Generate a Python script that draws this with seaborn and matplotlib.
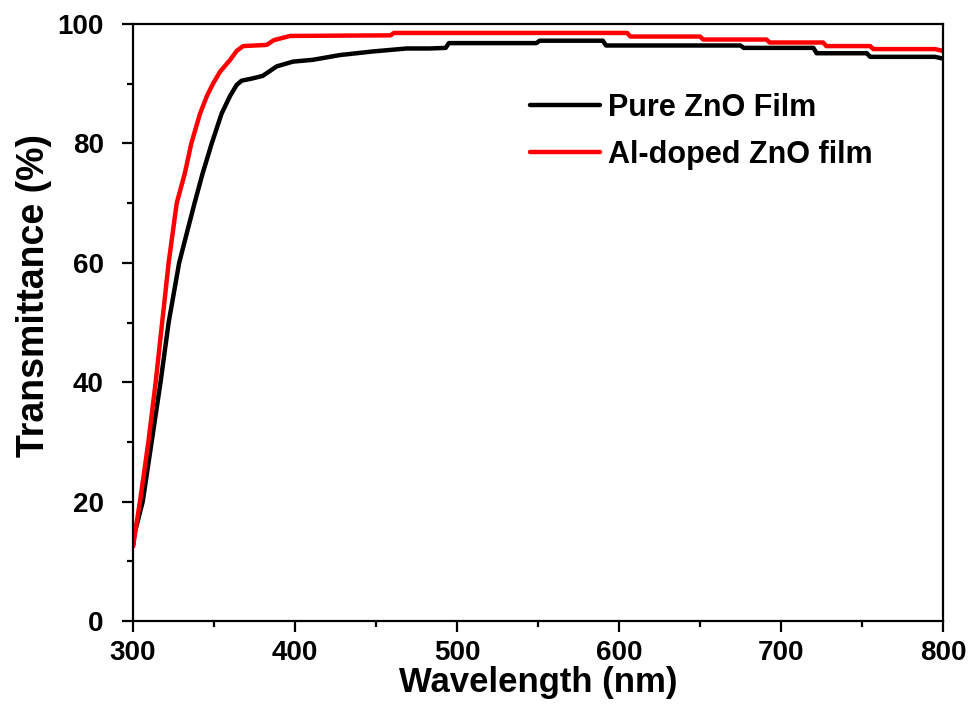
import matplotlib
matplotlib.use("Agg")
import matplotlib.pyplot as plt
import numpy as np
import pandas as pd
import seaborn as sns
from matplotlib.ticker import MultipleLocator

# values
pure_wl = [300, 301, 306, 311.5, 317, 322, 328.5, 338, 343, 348.6, 354.7, 360, 364, 367,
           374, 380, 388.7, 398.8, 411, 427.8, 448, 469, 483, 493, 495, 549, 551, 590,
           592, 675, 677, 720, 722, 753, 755, 795, 800]
pure_t = [12.5, 14.7, 20, 30, 40, 50, 60, 70, 75, 80, 85, 88, 89.8, 90.5,
          90.9, 91.3, 92.9, 93.7, 94.0, 94.8, 95.4, 95.9, 95.9, 96.0, 96.8, 96.8, 97.2, 97.2,
          96.4, 96.4, 96.0, 96.0, 95.1, 95.1, 94.5, 94.5, 94.2]

al_wl = [300, 304.3, 309.5, 314, 318, 322, 327, 332, 336, 341.4, 345.7, 349.4, 353.7, 360,
         364, 368, 382.5, 387, 397, 459, 461, 605, 607, 650, 652, 691, 693, 726, 728,
         755, 757, 795, 800]
al_t = [12.5, 20, 30, 40, 50, 60, 70, 75, 80, 85, 88, 90, 92, 94,
        95.5, 96.3, 96.5, 97.3, 98.0, 98.1, 98.5, 98.5, 97.9, 97.9, 97.4, 97.4, 96.9, 96.9, 96.3,
        96.3, 95.8, 95.8, 95.5]

labels = ["Pure ZnO Film", "Al-doped ZnO film"]
colors = ["black", "#ff0000"]

df = pd.concat([
    pd.DataFrame({"wl": pure_wl, "T": pure_t, "film": labels[0]}),
    pd.DataFrame({"wl": al_wl, "T": al_t, "film": labels[1]}),
])

sns.set_style("ticks")
plt.rcParams['font.family'] = ['Liberation Sans', 'DejaVu Sans']
plt.rcParams['font.weight'] = 'bold'
plt.rcParams['text.color'] = 'black'
plt.rcParams['axes.labelcolor'] = 'black'
plt.rcParams['xtick.color'] = 'black'
plt.rcParams['ytick.color'] = 'black'

fig = plt.figure(figsize=(9.73, 7.26), dpi=100)
ax = fig.add_axes([133/973, 105/726, 810/973, 597/726])

sns.lineplot(data=df, x="wl", y="T", hue="film", palette=colors, hue_order=labels,
             linewidth=3.2, ax=ax, sort=False, estimator=None)

ax.set_xlim(300, 800)
ax.set_ylim(0, 100)
ax.xaxis.set_major_locator(MultipleLocator(100))
ax.xaxis.set_minor_locator(MultipleLocator(50))
ax.yaxis.set_major_locator(MultipleLocator(20))
ax.yaxis.set_minor_locator(MultipleLocator(10))

for s in ax.spines.values():
    s.set_linewidth(1.6)
    s.set_color("black")
    s.set_visible(True)

ax.tick_params(which="major", direction="out", length=8, width=1.6, labelsize=20,
               top=False, right=False, color="black", labelcolor="black")
ax.tick_params(which="minor", direction="out", length=4.5, width=1.6, top=False, right=False,
               color="black")
ax.tick_params(axis="x", which="major", pad=6)
ax.tick_params(axis="y", which="major", pad=13)
for lab in ax.get_xticklabels() + ax.get_yticklabels():
    lab.set_fontweight("bold")

ax.set_xlabel("Wavelength (nm)", fontsize=25, fontweight="bold", labelpad=0)
ax.set_ylabel("Transmittance (%)", fontsize=27, fontweight="bold")
ax.yaxis.set_label_coords(-0.1, 0.546)

ax.legend(labels=labels, handles=ax.get_lines()[:2], loc="upper left",
          bbox_to_anchor=((530 - 133) / 810, (621 - 93) / 597), frameon=False,
          handlelength=2.3, handletextpad=0.25, borderaxespad=0,
          borderpad=0, labelspacing=0.55, prop={"weight": "bold", "size": 22})

fig.savefig("out.png", dpi=100)
